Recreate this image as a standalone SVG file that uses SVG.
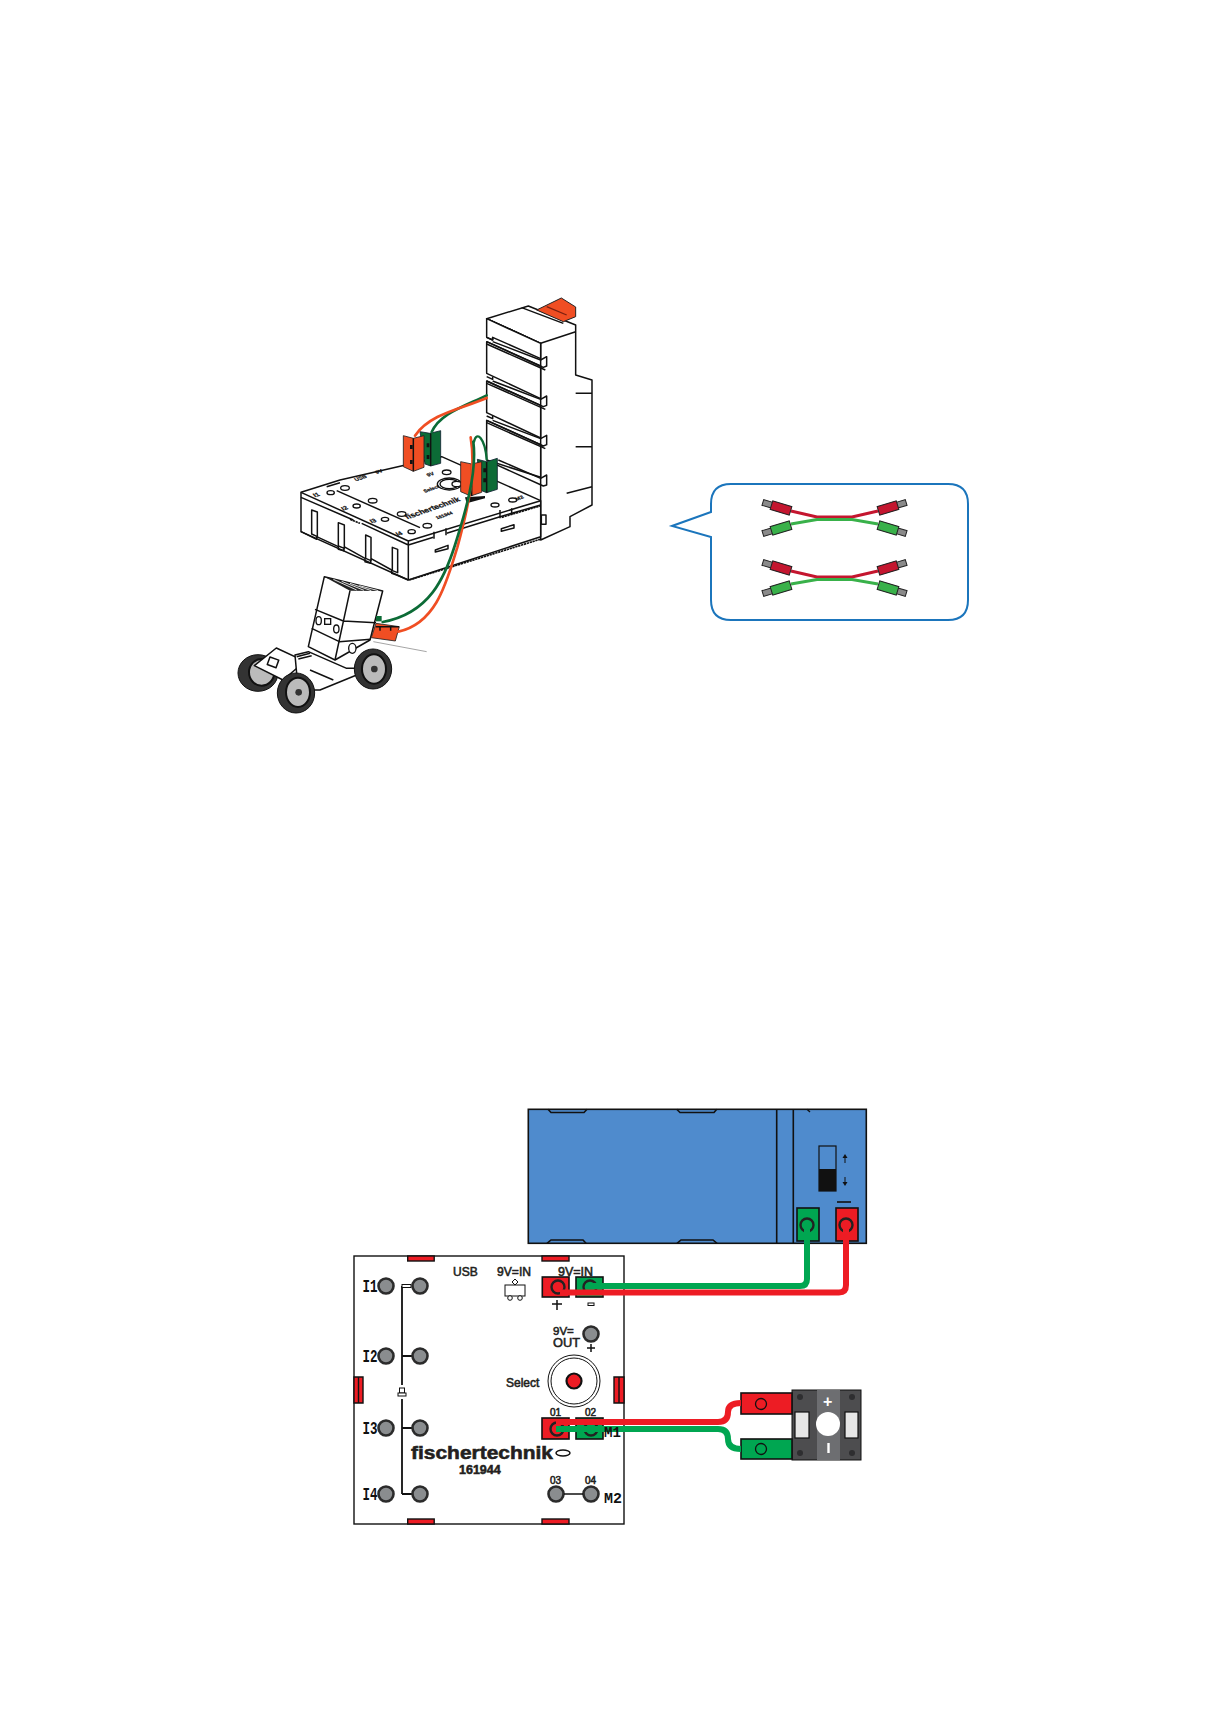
<svg xmlns="http://www.w3.org/2000/svg" width="1226" height="1719" viewBox="0 0 1226 1719">
<style>
text{font-family:"Liberation Sans",Arial,sans-serif;fill:#231f20}
.l{fill:#fff;stroke:#111;stroke-width:4.5;stroke-linejoin:round}
.n{fill:none;stroke:#111;stroke-width:4.5;stroke-linejoin:round}
.t{fill:none;stroke:#111;stroke-width:1.6}
.lab{font-size:12px;stroke:#231f20;stroke-width:.55}
.ser{font-family:"Liberation Mono",monospace;font-weight:bold;font-size:19px;fill:#111}
.post{fill:#8a8d8f;stroke:#2b2b2b;stroke-width:2.6}
.bl{fill:#ed1c24;stroke:#111;stroke-width:1.6}
.gr{fill:#00a651;stroke:#111;stroke-width:1.6}
.tab{fill:#ed1c24;stroke:#111;stroke-width:1.4}
.or{fill:#f04e23;stroke:#222;stroke-width:2.5;stroke-linejoin:round}
.dg{fill:#0c6b36;stroke:#123;stroke-width:2.5;stroke-linejoin:round}
.mini{font-size:20px;font-weight:bold;fill:#111;stroke:#111;stroke-width:.8}
.wr{fill:none;stroke-width:8;stroke-linecap:round;stroke-linejoin:round}
.cr{fill:none;stroke:#c4162f;stroke-width:3}
.cg{fill:none;stroke:#39b14a;stroke-width:3}
.pr{fill:#c4162f;stroke:#222;stroke-width:1}
.pg{fill:#39b14a;stroke:#222;stroke-width:1}
.pt{fill:#8a8a8a;stroke:#222;stroke-width:1}
</style>
<defs>
<g id="level">
<path class="n" d="M860,232L878,240V232M878,245L1022,300L1040,290V318L1030,322L860,245M860,252L1036,330"/>
</g>
<rect id="tip" class="pt" x="-19" y="-3" width="10" height="6"/>
<circle id="post" class="post" r="7.500"/>
<g id="leads">
<path class="cr" d="M791,511L817,517H852L878,511"/>
<path class="cg" d="M791,524L817,519.500H852L878,524"/>
<g transform="translate(781 508) rotate(17)"><use href="#tip"/><rect class="pr" x="-10" y="-4.500" width="20" height="9"/></g>
<g transform="translate(888 508) rotate(163)"><use href="#tip"/><rect class="pr" x="-10" y="-4.500" width="20" height="9"/></g>
<g transform="translate(781 528) rotate(-17)"><use href="#tip"/><rect class="pg" x="-10" y="-4.500" width="20" height="9"/></g>
<g transform="translate(888 528) rotate(-163)"><use href="#tip"/><rect class="pg" x="-10" y="-4.500" width="20" height="9"/></g>
</g>
</defs>

<g id="model" transform="translate(200 260) scale(.33333)">
<g id="tower">
<path class="l" d="M860,176L985,138L1127,195V345L1176,360V735L1110,770V800L1022,840V250Z"/>
<path fill="#f04e23" stroke="#222" stroke-width="3" d="M1010,150L1084,114L1127,141V170L1090,185Z"/>
<path d="M1040,140L1100,165" stroke="#7a2010" stroke-width="4" fill="none"/>
<path class="n" d="M860,176L1022,250L1127,215M965,143L1090,190"/>
<path class="l" d="M860,176V232L878,240V232L1022,296V250Z"/>
<path class="l" d="M860,245L1022,318V416L860,340Z"/>
<path class="l" d="M860,363L1022,436V534L860,458Z"/>
<path class="l" d="M860,481L1022,554V652L860,600Z"/>
<use href="#level"/>
<use href="#level" y="118"/>
<use href="#level" y="236"/>
<path class="n" d="M895,600L1022,655L1040,645V675L1030,678L880,610"/>
<path class="n" d="M1127,400H1176M1127,560H1176M1100,700L1176,680"/>
<rect class="l" x="1024" y="765" width="14" height="28"/>
</g>
<g id="base">
<path class="l" d="M303,697L420,660L725,590L1022,722V830L625,960L303,815Z"/>
<path class="n" d="M303,697L625,843L1022,722M303,712L460,780M485,790L625,855L700,832M740,820L900,770L1022,735M625,843V960"/>
<path class="n" d="M303,815L350,838V828M350,830L415,860V868L432,872V860L495,895V905L512,910V895L575,930V940L590,945L625,960"/>
<path fill="none" stroke="#111" stroke-width="5" stroke-dasharray="7 2" d="M628,960L1020,838M450,778L480,790M905,772L1020,738"/>
<path class="l" d="M335,750L352,756V830L335,822Z"/>
<path class="l" d="M415,788L433,795V865L415,858Z"/>
<path class="l" d="M497,825L513,832V902L497,895Z"/>
<path class="l" d="M577,862L593,868V938L577,932Z"/>
<path class="l" d="M706,870L744,856V866L706,876Z"/>
<path class="l" d="M904,806L942,794V804L904,814Z"/>
<path class="n" d="M702,815V836M738,805V826M900,750V775M935,745V765"/>
<path class="n" d="M410,692L660,803"/>
<path class="n" d="M380,680L420,668"/>
<g fill="#fff" stroke="#111" stroke-width="4">
<ellipse cx="392" cy="698" rx="11" ry="6"/><ellipse cx="435" cy="684" rx="13" ry="7"/>
<ellipse cx="470" cy="738" rx="11" ry="6"/><ellipse cx="518" cy="722" rx="13" ry="7"/>
<ellipse cx="555" cy="778" rx="11" ry="6"/><ellipse cx="605" cy="762" rx="13" ry="7"/>
<ellipse cx="635" cy="815" rx="11" ry="6"/><ellipse cx="682" cy="797" rx="13" ry="7"/>
<ellipse cx="740" cy="637" rx="13" ry="7"/>
<ellipse cx="748" cy="672" rx="36" ry="18"/><ellipse cx="748" cy="672" rx="28" ry="14"/><ellipse cx="770" cy="672" rx="14" ry="8"/>
<ellipse cx="885" cy="735" rx="12" ry="6"/><ellipse cx="938" cy="720" rx="12" ry="6"/>
</g>
<g class="mini">
<text class="mini" transform="matrix(.95 -.33 .6 .7 345 712)">I1</text>
<text class="mini" transform="matrix(.95 -.33 .6 .7 430 752)">I2</text>
<text class="mini" transform="matrix(.95 -.33 .6 .7 515 790)">I3</text>
<text class="mini" transform="matrix(.95 -.33 .6 .7 593 828)">I4</text>
<text class="mini" style="font-size:17px" transform="matrix(.95 -.33 .6 .7 468 664)">USB</text>
<text class="mini" style="font-size:17px" transform="matrix(.95 -.33 .6 .7 530 642)">9V</text>
<text class="mini" style="font-size:17px" transform="matrix(.95 -.33 .6 .7 685 650)">9V</text>
<text class="mini" style="font-size:16px" transform="matrix(.95 -.33 .6 .7 675 698)">Select</text>
<text class="mini" style="font-size:25px" transform="matrix(.95 -.33 .6 .7 622 778)">fischertechnik</text>
<text class="mini" style="font-size:15px" transform="matrix(.95 -.33 .6 .7 712 778)">161944</text>
<text class="mini" style="font-size:17px" transform="matrix(.95 -.33 .6 .7 950 722)">M2</text>
</g>
</g>
<g id="connector-a">
<path class="dg" d="M660,515L690,520L722,512V610L692,618L675,612Z"/><path class="n" d="M692,520V618" stroke-width="2.500"/>
<path fill="#111" d="M680,550h8v12h-8zM680,585h8v12h-8z"/>
<path class="or" d="M610,527L640,535L672,527V622L640,634L610,620Z"/><path class="n" d="M640,535V634" stroke-width="2.500"/>
<path fill="#111" d="M630,555h8v12h-8zM630,600h8v12h-8z"/>
</g>
<g id="connector-b">
<path class="dg" d="M832,598L860,605L892,595V688L860,698L845,692Z"/><path class="n" d="M860,605V698" stroke-width="2.500"/>
<path fill="#111" d="M850,625h8v12h-8zM850,655h8v12h-8z"/>
<path class="or" d="M782,605L815,612L845,605V697L812,708L782,695Z"/><path class="n" d="M815,612V708" stroke-width="2.500"/>
<path fill="#111" d="M795,712L855,708V715L800,730Z"/>
</g>
<g id="car">
<path class="l" d="M373,950L548,993L510,1140L405,1200L325,1160Z"/>
<path fill="#222" d="M373,950L548,993L450,992Z"/>
<path d="M400,958L470,990M425,964L492,991M450,970L514,992M478,977L535,992" stroke="#ddd" stroke-width="3" fill="none"/>
<path class="n" d="M450,992L405,1200M345,1048L430,1083L528,1088M335,1105L418,1145L512,1138"/>
<g fill="#fff" stroke="#111" stroke-width="4"><ellipse cx="356" cy="1082" rx="8" ry="12"/><ellipse cx="409" cy="1107" rx="8" ry="12"/><rect x="374" y="1076" width="18" height="17"/><ellipse cx="457" cy="1165" rx="11" ry="15"/></g>
<path d="M520,1145L680,1175" stroke="#777" stroke-width="2" fill="none"/>
<path class="or" d="M528,1090L598,1100L586,1143L514,1133Z"/>
<path class="n" d="M527,1100L597,1100M540,1100V1112M572,1100V1112" stroke-width="3"/>
<path fill="#0c6b36" d="M528,1068H545V1084H528Z"/>
</g>
<g id="wheels">
<ellipse cx="174" cy="1239" rx="60" ry="55" fill="#333" stroke="#111" stroke-width="3"/><ellipse cx="185" cy="1237" rx="38" ry="40" fill="#bbb" stroke="#111" stroke-width="6"/>
<path class="l" d="M163,1217L229,1164L315,1204L249,1260Z"/>
<rect class="l" x="205" y="1195" width="28" height="24" transform="rotate(20 219 1207)"/>
<path class="l" d="M285,1185L325,1175L440,1225L480,1225L470,1245L360,1290L300,1290L290,1240Z"/>
<path class="n" d="M290,1190L330,1180M295,1197L335,1187M330,1230L400,1260"/>
<ellipse cx="288" cy="1299" rx="56" ry="60" fill="#333" stroke="#111" stroke-width="3"/><ellipse cx="294" cy="1297" rx="36" ry="44" fill="#bbb" stroke="#111" stroke-width="6"/><circle cx="296" cy="1297" r="10" fill="#333"/>
<ellipse cx="519" cy="1227" rx="56" ry="60" fill="#333" stroke="#111" stroke-width="3"/><ellipse cx="522" cy="1227" rx="36" ry="44" fill="#bbb" stroke="#111" stroke-width="6"/><circle cx="523" cy="1227" r="10" fill="#333"/>
</g>
</g>

<g id="callout">
<path fill="#fff" stroke="#1b75bc" stroke-width="2" d="M711,512V504Q711,484 731,484H948Q968,484 968,504V600Q968,620 948,620H731Q711,620 711,600V537L672,526Z"/>
<use href="#leads"/>
<use href="#leads" y="60"/>
</g>

<g id="battery">
<rect x="528.300" y="1109.300" width="338" height="134" fill="#4f8bcd" stroke="#111" stroke-width="1.600"/>
<path class="t" d="M676.700,1109.300L680,1112.500H714L716.700,1109.300M547,1243.300L551,1240H583L586,1243.300M677,1243.300L681,1240H713L717,1243.300M548,1109.300L551,1112.500H584L587,1109.300"/>
<path stroke="#111" stroke-width="1.600" fill="none" d="M776.700,1109.300V1243.300M793.300,1109.300V1243.300"/>
<path stroke="#111" stroke-width="1.400" fill="none" d="M807,1109.300L810,1112"/>
<rect x="819" y="1146" width="17" height="45" fill="#4f8bcd" stroke="#111" stroke-width="1.200"/>
<rect x="819" y="1169" width="17" height="22" fill="#111"/>
<path d="M845,1154l-2.500,4h2v5h1v-5h2zM845,1186l-2.500,-4h2v-5h1v5h2z" fill="#111"/>
<path d="M837,1202H851" stroke="#111" stroke-width="1.600"/>
<rect class="gr" x="797" y="1208" width="22" height="33"/>
<rect class="bl" x="836" y="1208" width="22" height="33"/>
<circle cx="807" cy="1225" r="6.500" fill="none" stroke="#222" stroke-width="2.400"/>
<circle cx="846" cy="1225" r="6.500" fill="none" stroke="#222" stroke-width="2.400"/>
</g>

<g id="board">
<rect x="354" y="1256" width="270" height="268" fill="#fff" stroke="#111" stroke-width="1.400"/>
<rect class="tab" x="407.700" y="1256" width="26.500" height="5"/><rect class="tab" x="542" y="1256" width="27" height="5"/>
<rect class="tab" x="407.700" y="1519" width="26.500" height="5"/><rect class="tab" x="542" y="1519" width="27" height="5"/>
<path class="tab" d="M354,1377H363V1403H354ZM358.500,1377V1403"/>
<path class="tab" d="M614,1377H624V1403H614ZM619,1377V1403"/>
<path d="M402,1286V1494M402,1356H412M402,1428H412M402,1494H412" stroke="#111" stroke-width="1.800" fill="none"/>
<rect x="402" y="1284.500" width="9" height="3" fill="#fff" stroke="#111" stroke-width="1"/>
<rect x="396" y="1385" width="12" height="14" fill="#fff"/>
<rect x="399.500" y="1388" width="5" height="5" fill="#fff" stroke="#111" stroke-width="1"/><rect x="398" y="1393" width="8" height="3" fill="#fff" stroke="#111" stroke-width="1"/>
<use href="#post" x="386" y="1286"/><use href="#post" x="420" y="1286"/>
<use href="#post" x="386" y="1356"/><use href="#post" x="420" y="1356"/>
<use href="#post" x="386" y="1428"/><use href="#post" x="420" y="1428"/>
<use href="#post" x="386" y="1494"/><use href="#post" x="420" y="1494"/>
<use href="#post" x="591" y="1334"/><use href="#post" x="556" y="1494"/><use href="#post" x="591" y="1494"/>
<path d="M564,1494H583" stroke="#111" stroke-width="1.500"/>
<text class="ser" x="362.500" y="1292" textLength="15" lengthAdjust="spacingAndGlyphs">I1</text>
<text class="ser" x="362.500" y="1362" textLength="15" lengthAdjust="spacingAndGlyphs">I2</text>
<text class="ser" x="362.500" y="1434" textLength="15" lengthAdjust="spacingAndGlyphs">I3</text>
<text class="ser" x="362.500" y="1500" textLength="15" lengthAdjust="spacingAndGlyphs">I4</text>
<text class="lab" x="453" y="1276">USB</text>
<text class="lab" x="497" y="1276" textLength="34" lengthAdjust="spacingAndGlyphs">9V=IN</text>
<text class="lab" x="558" y="1276" textLength="35" lengthAdjust="spacingAndGlyphs">9V=IN</text>
<text class="lab" x="553" y="1335" style="font-size:11.500px">9V=</text>
<text class="lab" x="553" y="1347" style="font-size:12.500px" textLength="27" lengthAdjust="spacingAndGlyphs">OUT</text>
<text class="lab" x="506" y="1387">Select</text>
<path d="M587,1348h8M591,1344v8M552,1304h10M557,1300v10" stroke="#111" stroke-width="1.500" fill="none"/>
<rect x="588" y="1303" width="6" height="2.500" fill="#fff" stroke="#111" stroke-width="1"/>
<g fill="#fff" stroke="#111" stroke-width="1"><rect x="505" y="1285" width="20" height="11"/><circle cx="510" cy="1298" r="2.300"/><circle cx="520" cy="1298" r="2.300"/><path d="M515,1279l3,3l-3,3l-3,-3z"/></g>
<rect class="bl" x="542.300" y="1277" width="26.700" height="20"/>
<rect class="gr" x="576" y="1277" width="27" height="20"/>
<circle cx="558" cy="1287" r="6.500" fill="none" stroke="#222" stroke-width="2.400"/>
<circle cx="590" cy="1287" r="6.500" fill="none" stroke="#222" stroke-width="2.400"/>
<circle cx="574" cy="1381" r="26" fill="#fff" stroke="#111"/><circle cx="574" cy="1381" r="23" fill="#fff" stroke="#111"/>
<circle cx="574" cy="1381" r="7.500" fill="#ed1c24" stroke="#111" stroke-width="2.200"/>
<rect class="bl" x="542" y="1418" width="27" height="21"/>
<rect class="gr" x="576" y="1418" width="27" height="21"/>
<circle cx="557" cy="1429" r="6.500" fill="none" stroke="#222" stroke-width="2.400"/>
<circle cx="591" cy="1429" r="6.500" fill="none" stroke="#222" stroke-width="2.400"/>
<text class="lab" x="550" y="1416" style="font-size:10px">01</text>
<text class="lab" x="585" y="1416" style="font-size:10px">02</text>
<text class="lab" x="411" y="1459" style="font-size:18px;font-weight:bold" textLength="142" lengthAdjust="spacingAndGlyphs">fischertechnik</text>
<text class="lab" x="459" y="1474" style="font-size:12.500px;font-weight:bold">161944</text>
<ellipse cx="563" cy="1453" rx="7" ry="3" fill="#fff" stroke="#111" stroke-width="1.500"/>
<text class="lab" x="550" y="1484" style="font-size:10px">03</text>
<text class="lab" x="585" y="1484" style="font-size:10px">04</text>
<text class="ser" x="604" y="1503" style="font-size:15px" textLength="18" lengthAdjust="spacingAndGlyphs">M2</text>
</g>

<g id="lamp">
<rect x="792" y="1390" width="69" height="70" fill="#4d4d4f" stroke="#111" stroke-width="1"/>
<rect x="817" y="1390" width="23" height="70" fill="#6d6e71"/>
<rect x="795" y="1412" width="14" height="26" fill="#e6e6e6" stroke="#111" stroke-width="1.200"/>
<rect x="845" y="1412" width="13" height="26" fill="#e6e6e6" stroke="#111" stroke-width="1.200"/>
<circle cx="828" cy="1424" r="12" fill="#fff"/>
<g fill="#2e2e30"><circle cx="800" cy="1397" r="3"/><circle cx="852" cy="1397" r="3"/><circle cx="800" cy="1453" r="3"/><circle cx="852" cy="1453" r="3"/></g>
<text x="823" y="1407" style="font-size:16px;font-weight:bold;fill:#fff">+</text>
<path d="M828.500,1443V1453" stroke="#fff" stroke-width="2.400"/>
<rect class="bl" x="741" y="1393" width="51" height="21"/>
<rect class="gr" x="741" y="1439" width="51" height="20"/>
<circle cx="761" cy="1404" r="5.500" fill="none" stroke="#111" stroke-width="1.300"/>
<circle cx="761" cy="1449" r="5.500" fill="none" stroke="#111" stroke-width="1.300"/>
</g>

<g id="connectors">
<g transform="translate(200 260) scale(.33333)">
<path class="wr" stroke="#0c6b36" d="M860,406C790,440 720,460 695,516"/>
<path class="wr" stroke="#f04e23" d="M860,414C790,445 690,460 645,527"/>
<path class="wr" style="stroke-width:7" stroke="#0c6b36" d="M860,598C855,535 830,510 822,545"/>
<path class="wr" stroke="#f04e23" d="M812,532C830,640 800,760 772,862C740,965 710,1090 595,1115"/>
<path class="wr" stroke="#0c6b36" d="M820,545C832,640 795,760 765,855C735,950 690,1060 548,1086"/>
</g>
<path fill="none" stroke="#00a651" stroke-width="6" d="M590,1286H800Q807,1286 807,1279V1226"/>
<path fill="none" stroke="#ed1c24" stroke-width="6" d="M560,1292.500H839Q846,1292.500 846,1285V1226"/>
<path fill="none" stroke="#00a651" stroke-width="6" d="M556,1429H718Q728,1429 728,1439Q728,1449 741,1449"/>
<path fill="none" stroke="#ed1c24" stroke-width="6" d="M556,1422H718Q728,1422 728,1412Q728,1403 741,1403"/>
</g>
<g id="board-label"><text class="ser" x="604" y="1437" style="font-size:15px" textLength="17" lengthAdjust="spacingAndGlyphs">M1</text></g>
</svg>
